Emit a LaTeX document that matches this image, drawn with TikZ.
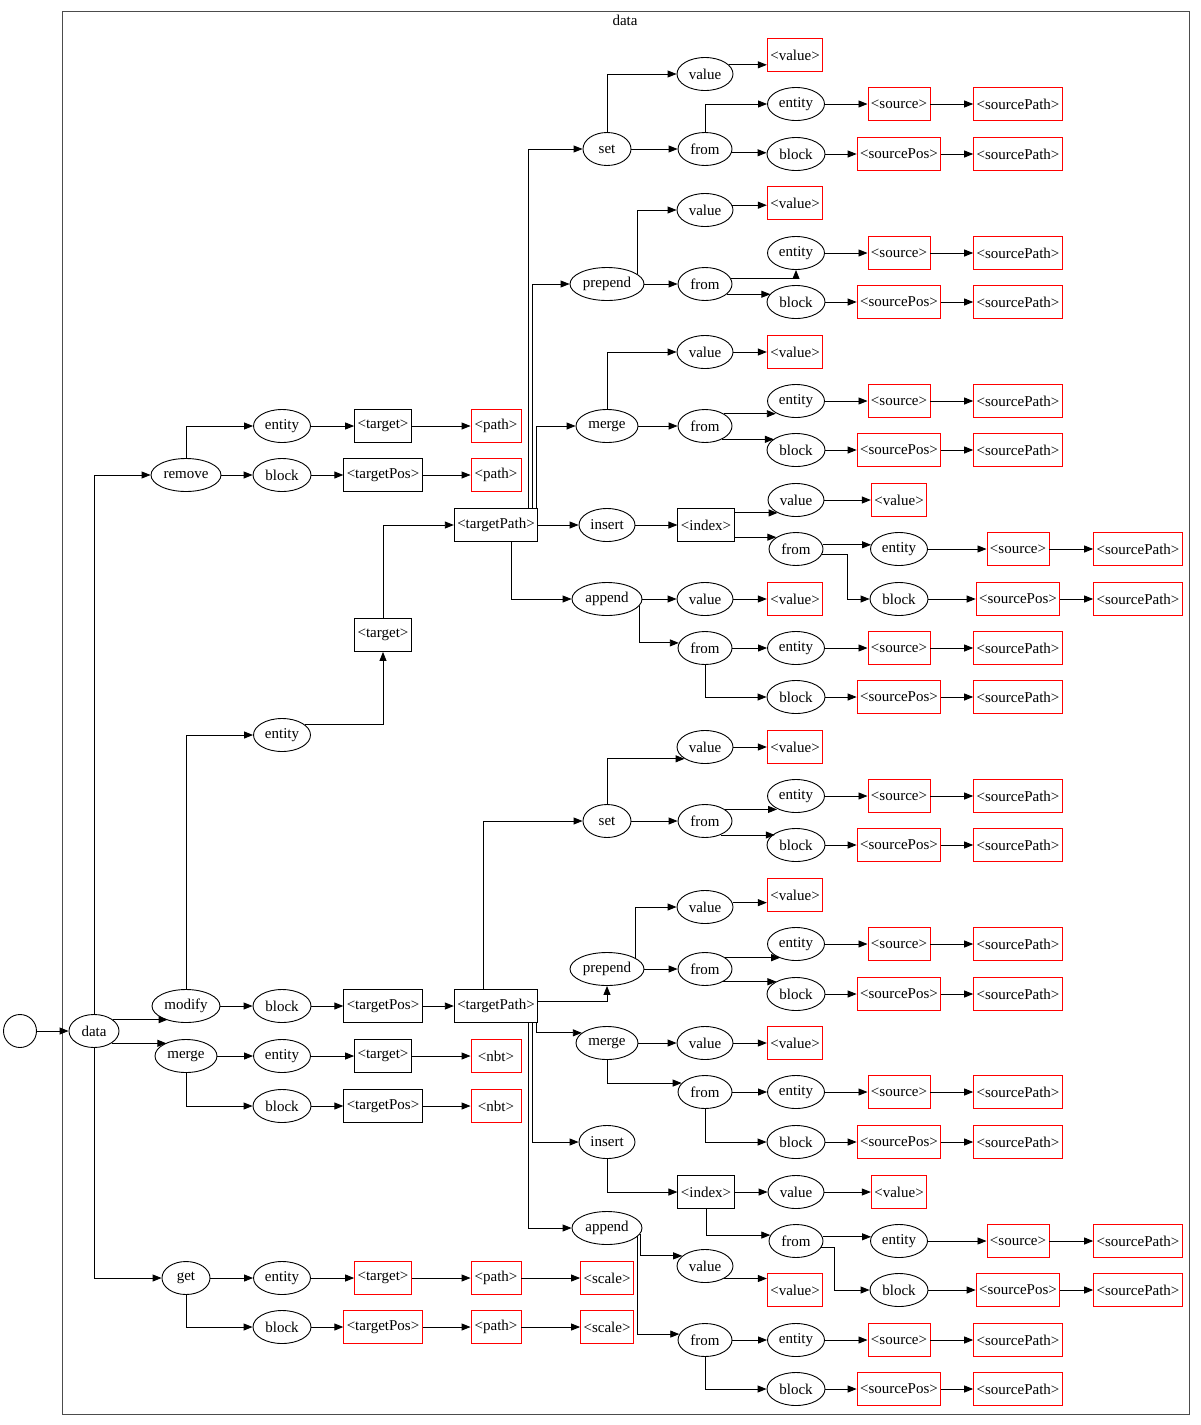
\documentclass[tikz,border=0pt]{standalone}
\usepackage{fontspec}
\setmainfont{Liberation Serif}
\usetikzlibrary{arrows.meta,shapes.geometric}
\tikzset{
  ell/.style={ellipse,draw,line width=0.9pt,minimum height=33pt,inner sep=0pt},
  bx/.style={rectangle,draw,line width=0.9pt,minimum height=33pt,minimum width=50pt,inner xsep=3pt,inner ysep=0pt},
  rbx/.style={bx,draw=red},
  edge/.style={draw,line width=0.9pt,-{Triangle[length=9pt,width=7pt]}},
  frame/.style={draw=black!70,line width=1pt}
}
\newcommand\El[4]{\node[ell,minimum width=#4pt] (#1) at (#2) {#3};}
\newcommand\Bx[3]{\node[bx] (#1) at (#2) {#3};}
\newcommand\Rb[3]{\node[rbx] (#1) at (#2) {#3};}
\newcommand\Ed[2]{\draw[edge] (#1) -- (#2);}
\begin{document}
\begin{tikzpicture}[x=1pt,y=-1pt,font=\fontsize{15pt}{18pt}\selectfont]
\useasboundingbox (0,0) rectangle (1200,1425);
\draw[frame] (62,11) rectangle (1189,1414);
\node (title) at (625,20) {data};
% top level
\node[circle,draw,line width=0.9pt,minimum size=33pt,inner sep=0pt] (start) at (20,1031) {};
\El{data}{94,1031}{data}{50}
\El{remove}{186,475}{remove}{70}
\El{modify}{186,1006}{modify}{68}
\El{merge0}{186,1056}{merge}{62}
\El{get}{186,1278}{get}{48}
% remove
\El{rent}{282,426}{entity}{57}
\Bx{rtgt}{383,426}{<target>}
\Rb{rpath}{496,426}{<path>}
\El{rblk}{282,475}{block}{58}
\Bx{rtpos}{383,475}{<targetPos>}
\Rb{rpath2}{496,475}{<path>}
% modify
\El{ment}{282,735}{entity}{57}
\Bx{mtgt}{383,635}{<target>}
\Bx{tpA}{496,525}{<targetPath>}
\El{mblk}{282,1006}{block}{58}
\Bx{mtpos}{383,1006}{<targetPos>}
\Bx{tpB}{496,1006}{<targetPath>}
% tpA set
\El{sA}{607,149}{set}{48}
\El{sAval}{705,74}{value}{56}
\Rb{sAvb}{795,55}{<value>}
\El{sAfr}{705,149}{from}{54}
\El{sAent}{796,104}{entity}{57}
\Rb{sAsrc}{899,104}{<source>}
\Rb{sAsp}{1018,104}{<sourcePath>}
\El{sAblk}{796,154}{block}{58}
\Rb{sAspos}{899,154}{<sourcePos>}
\Rb{sAsp2}{1018,154}{<sourcePath>}
% tpA prepend
\El{pA}{607,284}{prepend}{74}
\El{pAval}{705,210}{value}{56}
\Rb{pAvb}{795,203}{<value>}
\El{pAfr}{705,284}{from}{54}
\El{pAent}{796,253}{entity}{57}
\Rb{pAsrc}{899,253}{<source>}
\Rb{pAsp}{1018,253}{<sourcePath>}
\El{pAblk}{796,302}{block}{58}
\Rb{pAspos}{899,302}{<sourcePos>}
\Rb{pAsp2}{1018,302}{<sourcePath>}
% tpA merge
\El{mA}{607,426}{merge}{62}
\El{mAval}{705,352}{value}{56}
\Rb{mAvb}{795,352}{<value>}
\El{mAfr}{705,426}{from}{54}
\El{mAent}{796,401}{entity}{57}
\Rb{mAsrc}{899,401}{<source>}
\Rb{mAsp}{1018,401}{<sourcePath>}
\El{mAblk}{796,450}{block}{58}
\Rb{mAspos}{899,450}{<sourcePos>}
\Rb{mAsp2}{1018,450}{<sourcePath>}
% tpA insert
\El{iA}{607,525}{insert}{56}
\Bx{iAidx}{706,525}{<index>}
\El{iAval}{796,500}{value}{56}
\Rb{iAvb}{899,500}{<value>}
\El{iAfr}{796,549}{from}{54}
\El{iAent}{899,549}{entity}{57}
\Rb{iAsrc}{1018,549}{<source>}
\Rb{iAsp}{1138,549}{<sourcePath>}
\El{iAblk}{899,599}{block}{58}
\Rb{iAspos}{1018,599}{<sourcePos>}
\Rb{iAsp2}{1138,599}{<sourcePath>}
% tpA append
\El{aA}{607,599}{append}{70}
\El{aAval}{705,599}{value}{56}
\Rb{aAvb}{795,599}{<value>}
\El{aAfr}{705,648}{from}{54}
\El{aAent}{796,648}{entity}{57}
\Rb{aAsrc}{899,648}{<source>}
\Rb{aAsp}{1018,648}{<sourcePath>}
\El{aAblk}{796,697}{block}{58}
\Rb{aAspos}{899,697}{<sourcePos>}
\Rb{aAsp2}{1018,697}{<sourcePath>}
% tpB set
\El{sB}{607,821}{set}{48}
\El{sBval}{705,747}{value}{56}
\Rb{sBvb}{795,747}{<value>}
\El{sBfr}{705,821}{from}{54}
\El{sBent}{796,796}{entity}{57}
\Rb{sBsrc}{899,796}{<source>}
\Rb{sBsp}{1018,796}{<sourcePath>}
\El{sBblk}{796,845}{block}{58}
\Rb{sBspos}{899,845}{<sourcePos>}
\Rb{sBsp2}{1018,845}{<sourcePath>}
% tpB prepend
\El{pB}{607,969}{prepend}{74}
\El{pBval}{705,907}{value}{56}
\Rb{pBvb}{795,895}{<value>}
\El{pBfr}{705,969}{from}{54}
\El{pBent}{796,944}{entity}{57}
\Rb{pBsrc}{899,944}{<source>}
\Rb{pBsp}{1018,944}{<sourcePath>}
\El{pBblk}{796,994}{block}{58}
\Rb{pBspos}{899,994}{<sourcePos>}
\Rb{pBsp2}{1018,994}{<sourcePath>}
% tpB merge
\El{mB}{607,1043}{merge}{62}
\El{mBval}{705,1043}{value}{56}
\Rb{mBvb}{795,1043}{<value>}
\El{mBfr}{705,1092}{from}{54}
\El{mBent}{796,1092}{entity}{57}
\Rb{mBsrc}{899,1092}{<source>}
\Rb{mBsp}{1018,1092}{<sourcePath>}
\El{mBblk}{796,1142}{block}{58}
\Rb{mBspos}{899,1142}{<sourcePos>}
\Rb{mBsp2}{1018,1142}{<sourcePath>}
% tpB insert
\El{iB}{607,1142}{insert}{56}
\Bx{iBidx}{706,1192}{<index>}
\El{iBval}{796,1192}{value}{56}
\Rb{iBvb}{899,1192}{<value>}
\El{iBfr}{796,1241}{from}{54}
\El{iBent}{899,1241}{entity}{57}
\Rb{iBsrc}{1018,1241}{<source>}
\Rb{iBsp}{1138,1241}{<sourcePath>}
\El{iBblk}{899,1290}{block}{58}
\Rb{iBspos}{1018,1290}{<sourcePos>}
\Rb{iBsp2}{1138,1290}{<sourcePath>}
% tpB append
\El{aB}{607,1228}{append}{70}
\El{aBval}{705,1266}{value}{56}
\Rb{aBvb}{795,1290}{<value>}
\El{aBfr}{705,1340}{from}{54}
\El{aBent}{796,1340}{entity}{57}
\Rb{aBsrc}{899,1340}{<source>}
\Rb{aBsp}{1018,1340}{<sourcePath>}
\El{aBblk}{796,1389}{block}{58}
\Rb{aBspos}{899,1389}{<sourcePos>}
\Rb{aBsp2}{1018,1389}{<sourcePath>}
% merge (top level)
\El{m0ent}{282,1056}{entity}{57}
\Bx{m0tgt}{383,1056}{<target>}
\Rb{m0nbt}{496,1056}{<nbt>}
\El{m0blk}{282,1106}{block}{58}
\Bx{m0tpos}{383,1106}{<targetPos>}
\Rb{m0nbt2}{496,1106}{<nbt>}
% get
\El{gent}{282,1278}{entity}{57}
\Rb{gtgt}{383,1278}{<target>}
\Rb{gpath}{496,1278}{<path>}
\Rb{gsc}{607,1278}{<scale>}
\El{gblk}{282,1327}{block}{58}
\Rb{gtpos}{383,1327}{<targetPos>}
\Rb{gpath2}{496,1327}{<path>}
\Rb{gsc2}{607,1327}{<scale>}

% ---------- edges ----------
\Ed{start}{data}
\draw[edge] (data.north) |- (remove.west);
\draw[edge] (data.31) -- (data.31 -| modify.218);
\draw[edge] (data.325) -- (data.325 -| merge0.146);
\draw[edge] (data.south) |- (get.west);
% remove
\draw[edge] (remove.north) |- (rent.west);
\Ed{remove}{rblk}
\Ed{rent}{rtgt}\Ed{rtgt}{rpath}
\Ed{rblk}{rtpos}\Ed{rtpos}{rpath2}
% modify
\draw[edge] (modify.north) |- (ment.west);
\draw[edge] (ment.24) -| (mtgt.south);
\draw[edge] (mtgt.north) |- (tpA.west);
\Ed{modify}{mblk}\Ed{mblk}{mtpos}\Ed{mtpos}{tpB}
% tpA
\draw[edge] ([xshift=-10pt]tpA.north east) |- (sA.west);
\draw[edge] ([xshift=-6pt]tpA.north east) |- (pA.west);
\draw[edge] ([xshift=-2pt]tpA.north east) |- (mA.west);
\Ed{tpA}{iA}
\draw[edge] ([xshift=15pt]tpA.south) |- (aA.west);
% sA
\draw[edge] (sA.north) |- (sAval.west);
\draw[edge] (sAval.21) -- (sAval.21 -| sAvb.west);
\Ed{sA}{sAfr}
\draw[edge] (sAfr.north) |- (sAent.west);
\draw[edge] (sAfr.-8) -- (sAfr.-8 -| sAblk.west);
\Ed{sAent}{sAsrc}\Ed{sAsrc}{sAsp}
\Ed{sAblk}{sAspos}\Ed{sAspos}{sAsp2}
% pA
\draw[edge] (pA.18) |- (pAval.west);
\draw[edge] (pAval.10) -- (pAval.10 -| pAvb.west);
\Ed{pA}{pAfr}
\draw[edge] (pAfr.13) -| (pAent.south);
\draw[edge] (pAfr.335) -- (pAfr.335 -| pAblk.162);
\Ed{pAent}{pAsrc}\Ed{pAsrc}{pAsp}
\Ed{pAblk}{pAspos}\Ed{pAspos}{pAsp2}
% mA
\draw[edge] (mA.north) |- (mAval.west);
\Ed{mAval}{mAvb}
\Ed{mA}{mAfr}
\draw[edge] (mAfr.33) -- (mAfr.33 -| mAent.211);
\draw[edge] (mAfr.322) -- (mAfr.322 -| mAblk.153);
\Ed{mAent}{mAsrc}\Ed{mAsrc}{mAsp}
\Ed{mAblk}{mAspos}\Ed{mAspos}{mAsp2}
% iA
\Ed{iA}{iAidx}
\draw[edge] (iAidx.east |- iAval.215) -- (iAval.215);
\draw[edge] (iAidx.east |- iAfr.149) -- (iAfr.149);
\Ed{iAval}{iAvb}
\draw[edge] (iAfr.9) -- (iAfr.9 -| iAent.171);
\draw[edge] (iAfr.347) -| ([xshift=-22pt]iAblk.west) -- (iAblk.west);
\Ed{iAent}{iAsrc}\Ed{iAsrc}{iAsp}
\Ed{iAblk}{iAspos}\Ed{iAspos}{iAsp2}
% aA
\Ed{aA}{aAval}\Ed{aAval}{aAvb}
\draw[edge] (aA.348) |- (aAfr.169);
\Ed{aAfr}{aAent}
\draw[edge] (aAfr.south) |- (aAblk.west);
\Ed{aAent}{aAsrc}\Ed{aAsrc}{aAsp}
\Ed{aAblk}{aAspos}\Ed{aAspos}{aAsp2}
% tpB
\draw[edge] ([xshift=-13pt]tpB.north) |- (sB.west);
\draw[edge] ([yshift=5pt]tpB.east) -| (pB.south);
\draw[edge] ([xshift=-2pt]tpB.south east) |- (mB.158);
\draw[edge] ([xshift=-6pt]tpB.south east) |- (iB.west);
\draw[edge] ([xshift=-10pt]tpB.south east) |- (aB.west);
% sB
\draw[edge] (sB.north) |- (sBval.210);
\Ed{sBval}{sBvb}
\Ed{sB}{sBfr}
\draw[edge] (sBfr.30) -- (sBfr.30 -| sBent.214);
\draw[edge] (sBfr.318) -- (sBfr.318 -| sBblk.151);
\Ed{sBent}{sBsrc}\Ed{sBsrc}{sBsp}
\Ed{sBblk}{sBspos}\Ed{sBspos}{sBsp2}
% pB
\draw[edge] (pB.21) |- (pBval.west);
\draw[edge] (pBval.9) -- (pBval.9 -| pBvb.west);
\Ed{pB}{pBfr}
\draw[edge] (pBfr.29) -- (pBfr.29 -| pBent.222);
\draw[edge] (pBfr.325) -- (pBfr.325 -| pBblk.147);
\Ed{pBent}{pBsrc}\Ed{pBsrc}{pBsp}
\Ed{pBblk}{pBspos}\Ed{pBspos}{pBsp2}
% mB
\Ed{mB}{mBval}\Ed{mBval}{mBvb}
\draw[edge] (mB.south) |- (mBfr.159);
\Ed{mBfr}{mBent}
\draw[edge] (mBfr.south) |- (mBblk.west);
\Ed{mBent}{mBsrc}\Ed{mBsrc}{mBsp}
\Ed{mBblk}{mBspos}\Ed{mBspos}{mBsp2}
% iB
\draw[edge] (iB.south) |- (iBidx.west);
\Ed{iBidx}{iBval}\Ed{iBval}{iBvb}
\draw[edge] (iBidx.south) |- (iBfr.167);
\draw[edge] (iBfr.9) -- (iBfr.9 -| iBent.171);
\draw[edge] (iBfr.346) -| ([xshift=-35pt]iBblk.west) -- (iBblk.west);
\Ed{iBent}{iBsrc}\Ed{iBsrc}{iBsp}
\Ed{iBblk}{iBspos}\Ed{iBspos}{iBsp2}
% aB
\draw[edge] (aB.350) |- (aBval.156);
\draw[edge] (aBval.327) -- (aBval.327 -| aBvb.west);
\draw[edge] (aB.345) |- (aBfr.167);
\Ed{aBfr}{aBent}
\draw[edge] (aBfr.south) |- (aBblk.west);
\Ed{aBent}{aBsrc}\Ed{aBsrc}{aBsp}
\Ed{aBblk}{aBspos}\Ed{aBspos}{aBsp2}
% merge top
\Ed{merge0}{m0ent}\Ed{m0ent}{m0tgt}\Ed{m0tgt}{m0nbt}
\draw[edge] (merge0.south) |- (m0blk.west);
\Ed{m0blk}{m0tpos}\Ed{m0tpos}{m0nbt2}
% get
\Ed{get}{gent}\Ed{gent}{gtgt}\Ed{gtgt}{gpath}\Ed{gpath}{gsc}
\draw[edge] (get.south) |- (gblk.west);
\Ed{gblk}{gtpos}\Ed{gtpos}{gpath2}\Ed{gpath2}{gsc2}
\end{tikzpicture}
\end{document}
